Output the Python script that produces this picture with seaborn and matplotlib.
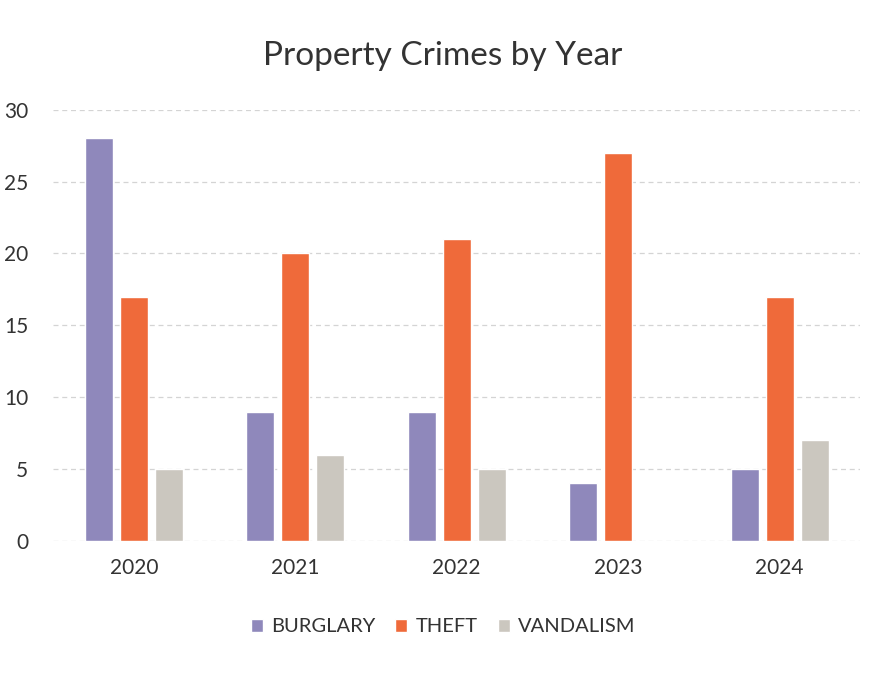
import matplotlib
matplotlib.use("Agg")
import matplotlib.pyplot as plt
import seaborn as sns
import pandas as pd

# values
years = ["2020", "2021", "2022", "2023", "2024"]
burglary = [28, 9, 9, 4, 5]
theft = [17, 20, 21, 27, 17]
vandalism = [5, 6, 5, 0, 7]

series = ["BURGLARY", "THEFT", "VANDALISM"]
colors = ["#8f88bb", "#ef6a3a", "#cbc7bf"]

df = pd.DataFrame({
    "year": years * 3,
    "crime": ["BURGLARY"] * 5 + ["THEFT"] * 5 + ["VANDALISM"] * 5,
    "count": burglary + theft + vandalism,
})

sns.set_theme(style="white")
plt.rcParams["font.family"] = ["Lato", "DejaVu Sans"]

fig = plt.figure(figsize=(8.86, 6.77), dpi=100)
ax = fig.add_axes([0.060, 0.201, 0.911, 0.637])

sns.barplot(data=df, x="year", y="count", hue="crime", hue_order=series,
            palette=colors, width=0.65, gap=0.2, saturation=1, ax=ax)

ax.set_ylim(0, 30)
ax.set_yticks(range(0, 31, 5))
ax.yaxis.grid(True, color="#d4d4d4", linestyle=(0, (4, 3)), linewidth=0.9)
ax.set_axisbelow(True)
for s in ax.spines.values():
    s.set_visible(False)
ax.set_xlabel("")
ax.set_ylabel("")
ax.tick_params(axis="both", length=0, labelsize=15, colors="#333333")
ax.tick_params(axis="x", pad=12)
ax.tick_params(axis="y", pad=18)

fig.suptitle("Property Crimes by Year", y=0.94, fontsize=24, color="#333333")

ax.legend_.remove()
handles, labels = ax.get_legend_handles_labels()
fig.legend(handles, labels, loc="center", bbox_to_anchor=(0.5, 0.074), ncol=3,
           frameon=False, fontsize=14.5, handlelength=0.6, handleheight=0.6,
           handletextpad=0.4, columnspacing=1.0, labelcolor="#333333")

fig.savefig("out.png", dpi=100)
